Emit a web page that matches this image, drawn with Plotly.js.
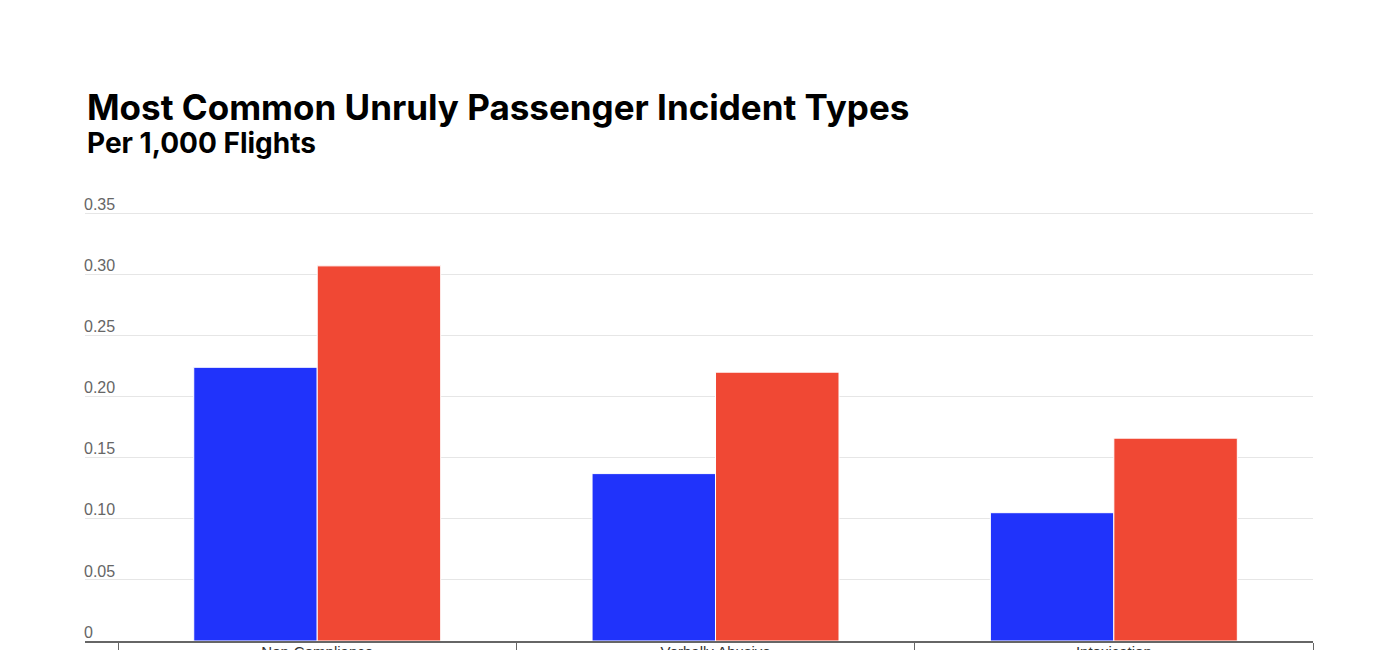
<!DOCTYPE html>
<html>
<head>
<meta charset="utf-8">
<script src="https://cdn.plot.ly/plotly-3.0.1.min.js"></script>
<style>html,body{margin:0;padding:0;background:#fff;}#chart{width:1400px;height:650px;}</style>
</head>
<body>
<div id="chart"></div>
<script>
const categories = ["Non-Compliance", "Verbally Abusive", "Intoxication"];
const seriesA = [0.224, 0.137, 0.105];
const seriesB = [0.307, 0.220, 0.166];
const yTickVals = [0, 0.05, 0.10, 0.15, 0.20, 0.25, 0.30, 0.35];
const yTickText = ["0", "0.05", "0.10", "0.15", "0.20", "0.25", "0.30", "0.35"];
const titleText = "Most Common Unruly Passenger Incident Types";
const subtitleText = "Per 1,000 Flights";

const traces = [
  {type: "bar", name: "Series A", x: categories, y: seriesA,
   marker: {color: "#2033FB", line: {color: "#ffffff", width: 1}}, hoverinfo: "x+y"},
  {type: "bar", name: "Series B", x: categories, y: seriesB,
   marker: {color: "#F04834", line: {color: "#ffffff", width: 1}}, hoverinfo: "x+y"}
];

const layout = {
  width: 1400, height: 650,
  paper_bgcolor: "#ffffff", plot_bgcolor: "#ffffff",
  margin: {l: 85, r: 87, t: 195, b: 9, pad: 0},
  showlegend: false,
  barmode: "group", bargap: 0.38, bargroupgap: 0.0,
  font: {family: "Liberation Sans, Arial, sans-serif", color: "#333"},
  xaxis: {
    type: "category", range: [-0.583, 2.5],
    tickson: "boundaries", ticks: "outside", ticklen: 12, tickcolor: "#666", tickwidth: 1,
    showline: true, linecolor: "#666", linewidth: 2,
    showgrid: false, zeroline: false,
    tickfont: {size: 15, color: "#333"}, ticklabelstandoff: -4,
    fixedrange: true
  },
  yaxis: {
    range: [0, 0.365], tickvals: yTickVals, ticktext: yTickText,
    ticklabelposition: "inside", ticklabelshift: -9, ticklabelstandoff: -4,
    tickfont: {size: 16, color: "#666"},
    showgrid: true, gridcolor: "#e6e6e6", gridwidth: 1,
    zeroline: false, showline: false, ticks: "",
    fixedrange: true
  },
  annotations: [
    {text: "<b>" + titleText + "</b>", xref: "paper", yref: "paper", x: 0.0, y: 1, xanchor: "left", yanchor: "bottom",
     yshift: 65, showarrow: false, font: {size: 35, color: "#000", family: "Inter, Liberation Sans, sans-serif"}},
    {text: "<b>" + subtitleText + "</b>", xref: "paper", yref: "paper", x: 0.0, y: 1, xanchor: "left", yanchor: "bottom",
     yshift: 33, showarrow: false, font: {size: 28, color: "#000", family: "Inter, Liberation Sans, sans-serif"}}
  ]
};

Plotly.newPlot("chart", traces, layout, {displayModeBar: false, staticPlot: true});
</script>
</body>
</html>
